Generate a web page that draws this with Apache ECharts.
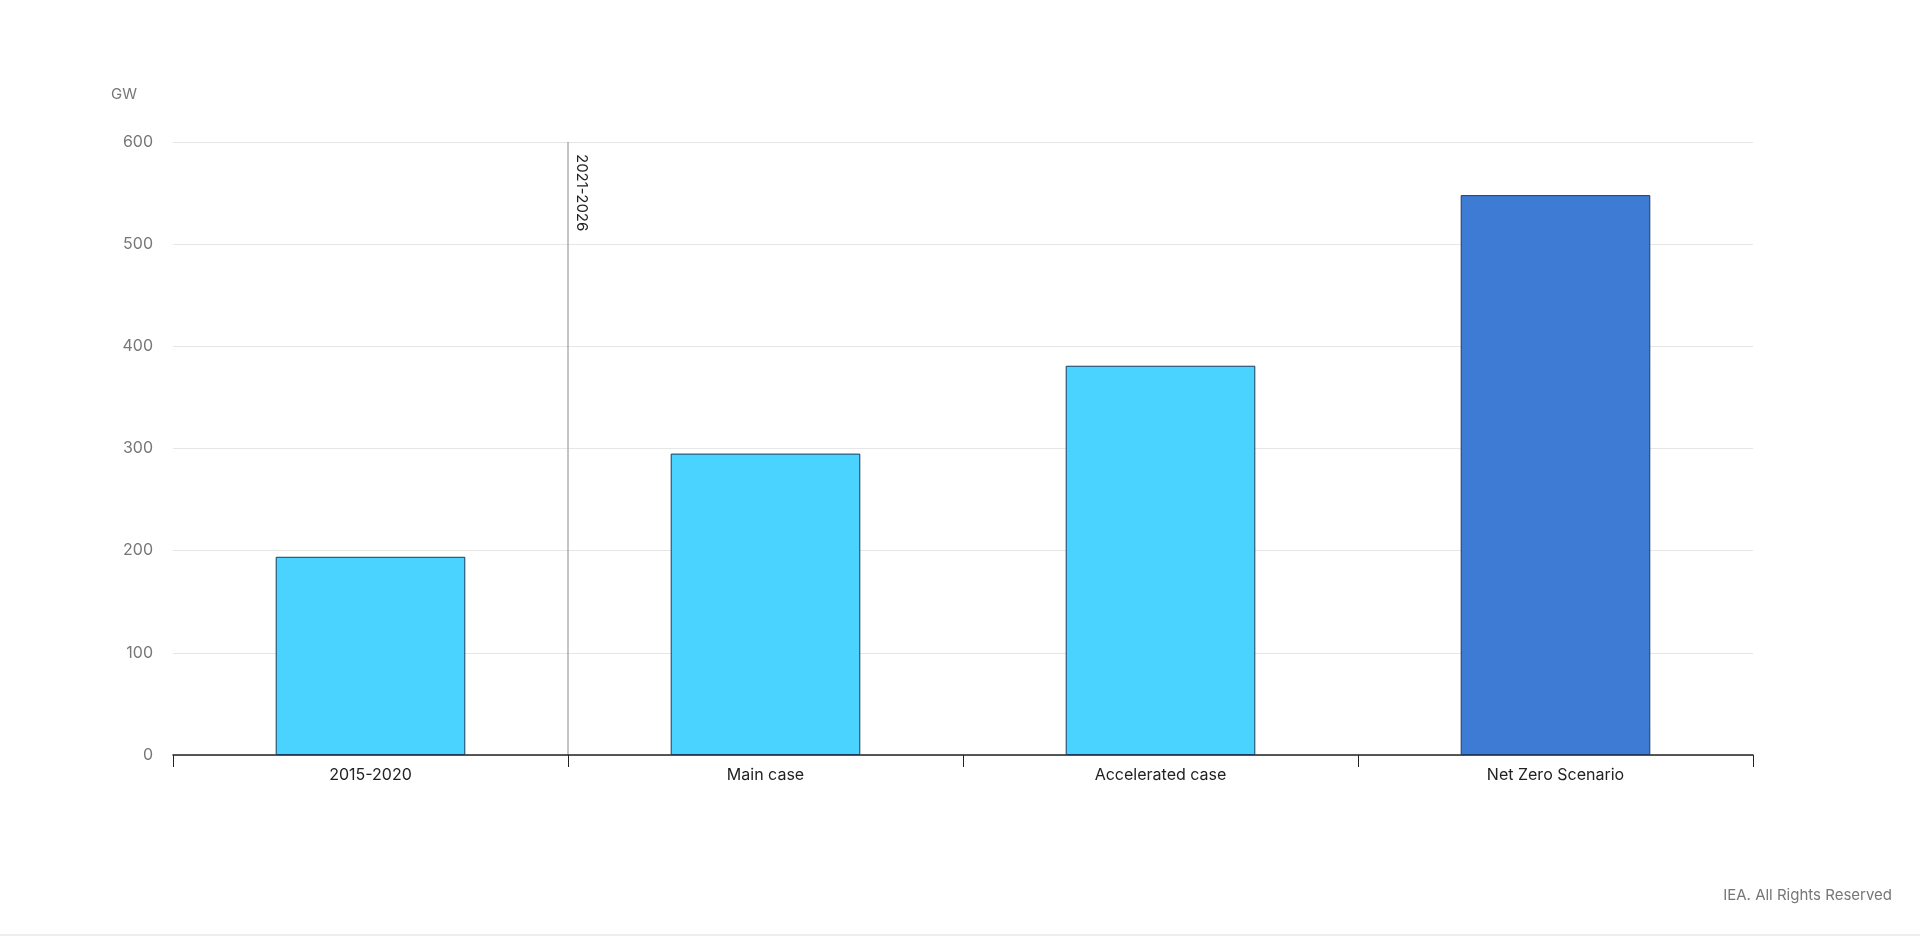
<!DOCTYPE html>
<html lang="en">
  <head>
    <meta charset="UTF-8" />
    <title>Capacity</title>
    <style>
      html, body { margin: 0; padding: 0; background: #fff; }
      #container { width: 1920px; height: 937px; }
    </style>
    <script src="https://cdn.jsdelivr.net/npm/echarts@6/dist/echarts.min.js"></script>
  </head>
  <body>
    <div id="container"></div>
    <script>
      const categories = ['2015-2020', 'Main case', 'Accelerated case', 'Net Zero Scenario']
      const values = [194, 295, 381, 548]
      const barColors = ['#4ad3ff', '#4ad3ff', '#4ad3ff', '#3e7bd4']
      const periodLabel = '2021-2026'

      const chart = echarts.init(document.getElementById('container'))
      chart.setOption({
        animation: false,
        grid: { left: 173, right: 167, top: 142, bottom: 182 },
        xAxis: {
          type: 'category',
          data: categories,
          axisLine: { lineStyle: { color: '#222', width: 1.5 } },
          axisTick: { show: true, length: 12, lineStyle: { color: '#222' } },
          axisLabel: { color: '#222', fontSize: 16, fontFamily: 'Inter', margin: 12 }
        },
        yAxis: {
          type: 'value',
          min: 0, max: 600, interval: 100,
          name: 'GW',
          nameLocation: 'end',
          nameGap: 40,
          nameTextStyle: { color: '#777', fontSize: 15, fontFamily: 'Inter', align: 'right', padding: [0, 36, 0, 0] },
          axisLine: { show: false },
          axisTick: { show: false },
          axisLabel: { color: '#777', fontSize: 16, fontFamily: 'Inter', margin: 20 },
          splitLine: { lineStyle: { color: '#e6e6e6' } }
        },
        series: [{
          type: 'bar',
          barWidth: '48%',
          data: values.map((v, i) => ({ value: v, itemStyle: { color: barColors[i] } })),
          itemStyle: { borderColor: '#1f3a5a', borderWidth: 1 }
        }],
        graphic: [
          { type: 'text', right: 28, top: 888, style: { text: 'IEA. All Rights Reserved', fill: '#777', font: '15px Inter' } },
          { type: 'line', shape: { x1: 0, y1: 935, x2: 1920, y2: 935 }, style: { stroke: '#ddd', lineWidth: 1 } }
        ]
      })

      // divider between historical and forecast categories
      const x0 = chart.convertToPixel({ xAxisIndex: 0 }, categories[0])
      const x1 = chart.convertToPixel({ xAxisIndex: 0 }, categories[1])
      const xm = (x0 + x1) / 2
      const yTop = chart.convertToPixel({ yAxisIndex: 0 }, 600)
      const yBot = chart.convertToPixel({ yAxisIndex: 0 }, 0)
      chart.setOption({
        graphic: [
          { type: 'text', right: 28, top: 888, style: { text: 'IEA. All Rights Reserved', fill: '#777', font: '15px Inter' } },
          { type: 'line', shape: { x1: 0, y1: 935, x2: 1920, y2: 935 }, style: { stroke: '#ddd', lineWidth: 1 } },
          { type: 'line', shape: { x1: xm, y1: yTop, x2: xm, y2: yBot }, style: { stroke: '#888', lineWidth: 1 } },
          { type: 'text', x: xm + 6, y: yTop + 12, rotation: -Math.PI / 2,
            style: { text: periodLabel, fill: '#222', font: '15px Inter', align: 'left', verticalAlign: 'bottom' } }
        ]
      }, { replaceMerge: ['graphic'] })
    </script>
  </body>
</html>
